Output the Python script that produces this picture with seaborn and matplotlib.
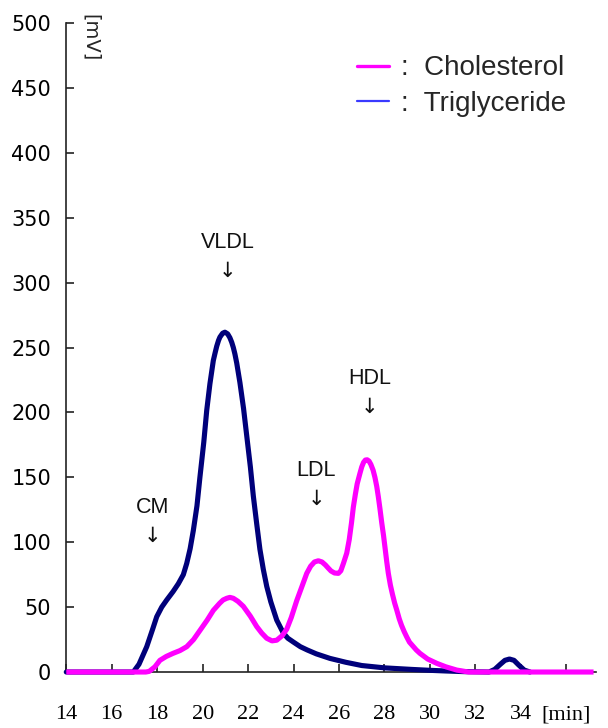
import pandas as pd
import matplotlib
matplotlib.use("Agg")
import matplotlib.pyplot as plt
from matplotlib.lines import Line2D
import seaborn as sns

# Values (time in min, signal in mV)
tg_time = [14, 16.5, 16.95, 17.2, 17.54, 17.8, 17.98, 18.2, 18.42, 18.7, 18.93, 19.15,
           19.3, 19.45, 19.59, 19.75, 19.88, 20.05, 20.18, 20.32, 20.47, 20.55, 20.62,
           20.7, 20.76, 20.88, 20.98, 21.1, 21.2, 21.28, 21.35, 21.42, 21.5, 21.64, 21.8,
           21.94, 22.1, 22.23, 22.38, 22.52, 22.67, 22.82, 23.0, 23.26, 23.55, 23.75,
           24.0, 24.3, 24.6, 25.0, 25.6, 26.3, 27.0, 28.0, 29.2, 30.0, 30.7, 31.5, 32.6,
           32.85, 33.1, 33.3, 33.5, 33.7, 33.9, 34.15, 34.4]
tg_mv = [0, 0, 0, 6, 19.5, 33, 42.6, 50, 55.5, 62, 68, 75,
         83.7, 95, 109, 128, 150, 177, 201.6, 222, 240, 246, 251,
         255.5, 258, 261, 261.8, 260.5, 257.5, 254, 250, 245, 238, 223, 203,
         182, 158, 135.6, 114, 94.5, 79, 66, 54, 40, 30, 26,
         23, 19.5, 17, 14, 10.5, 7.5, 5, 3.2, 2, 1.3, 0.8, 0.3, 0,
         2, 6, 9, 10, 9, 5.5, 1.5, 0]

ch_time = [14, 17.5, 17.65, 17.9, 18.12, 18.4, 18.7, 19.0, 19.3, 19.6, 19.88, 20.2,
           20.47, 20.75, 20.9, 21.06, 21.2, 21.35, 21.55, 21.79, 22.1, 22.38, 22.6,
           22.82, 23.05, 23.26, 23.5, 23.7, 23.9, 24.14, 24.35, 24.58, 24.75, 24.92,
           25.09, 25.25, 25.4, 25.53, 25.65, 25.8, 25.97, 26.08, 26.2, 26.34, 26.45,
           26.55, 26.63, 26.72, 26.8, 26.92, 27.0, 27.08, 27.16, 27.24, 27.32, 27.4,
           27.5, 27.58, 27.66, 27.73, 27.8, 27.88, 27.96, 28.03, 28.1, 28.17, 28.26,
           28.35, 28.45, 28.54, 28.65, 28.75, 28.87, 28.98, 29.1, 29.25, 29.4, 29.56,
           29.9, 30.3, 30.7, 31.18, 31.7, 37.2]
ch_mv = [0, 0, 0.5, 4, 9, 12, 14.4, 16.5, 19.5, 25, 32, 40,
         47.5, 53, 55.5, 56.8, 57.5, 56.8, 54.5, 50.6, 43, 35, 30,
         26, 24, 24.5, 28, 33, 42, 55, 65, 76, 81.5, 84.8,
         85.7, 84.8, 82.5, 80, 77.8, 76.3, 76, 78, 84, 91.6, 102,
         115, 127, 137, 145, 153, 158, 161.5, 163.3, 163.5, 162.5, 160,
         155.5, 150, 143, 135, 126, 115, 105, 95, 85, 76, 67,
         60, 53, 47.8, 41, 36, 31, 27, 23, 20, 17, 14.4,
         10, 6.7, 4, 1.5, 0, 0]

x_ticks = [14, 16, 18, 20, 22, 24, 26, 28, 30, 32, 34, 36]
x_labels = ["14", "16", "18", "20", "22", "24", "26", "28", "30", "32", "34", "[min]"]
y_ticks = [0, 50, 100, 150, 200, 250, 300, 350, 400, 450, 500]

peak_names = ["CM", "VLDL", "LDL", "HDL"]
peak_time = [17.8, 21.1, 25.0, 27.35]
peak_label_mv = [127, 331, 155, 226]

tg = pd.DataFrame({"time": tg_time, "mV": tg_mv})
ch = pd.DataFrame({"time": ch_time, "mV": ch_mv})

sns.set_style("ticks")
plt.rcParams["font.family"] = ["Liberation Sans", "DejaVu Sans"]

fig = plt.figure(figsize=(6.08, 7.28), dpi=100)
ax = fig.add_axes([0.109, 0.0769, 0.871, 0.8915])

sns.lineplot(data=tg, x="time", y="mV", ax=ax, color="#00007a", lw=3.7,
             sort=False, estimator=None, clip_on=False, zorder=3,
             solid_joinstyle="round", solid_capstyle="round")
sns.lineplot(data=ch, x="time", y="mV", ax=ax, color="#ff00ff", lw=3.7,
             sort=False, estimator=None, clip_on=False, zorder=4,
             solid_joinstyle="round", solid_capstyle="butt")

ax.set_xlim(14, 37.3)
ax.set_ylim(0, 500)
ax.set_xticks(x_ticks)
ax.set_xticklabels(x_labels, family="Liberation Serif", fontsize=16)
ax.set_yticks(y_ticks)
ax.set_yticklabels([str(v) for v in y_ticks], family="DejaVu Sans", fontsize=15)
ax.tick_params(axis="x", direction="in", length=6, width=1.2, pad=24,
               color="#222222", labelcolor="black", bottom=True)
ax.tick_params(axis="y", direction="in", length=6, width=1.2, pad=11,
               color="#222222", labelcolor="black", left=True)
ax.set_xlabel("")
ax.set_ylabel("")
sns.despine(ax=ax)
ax.spines["left"].set_linewidth(1.2)
ax.spines["bottom"].set_linewidth(1.2)
ax.spines["left"].set_color("#222222")
ax.spines["bottom"].set_color("#222222")

ax.text(15.05, 489, "[mV]", rotation=-90, ha="center", va="center",
        fontsize=14, family="DejaVu Sans")

for name, t, m in zip(peak_names, peak_time, peak_label_mv):
    ax.text(t, m, name, ha="center", va="center", fontsize=15.5, color="#111111")
    ax.text(t, m - 22, "\u2193", ha="center", va="center", fontsize=15,
            family="DejaVu Sans", color="#111111")

handles = [Line2D([], [], color="#ff00ff", lw=2.4),
           Line2D([], [], color="#3a3aff", lw=1.6)]
ax.legend(handles, [":  Cholesterol", ":  Triglyceride"], loc="upper left",
          bbox_to_anchor=(0.549, 0.950), frameon=False, fontsize=20,
          handlelength=1.15, handletextpad=0.45, labelspacing=0.35,
          borderpad=0, borderaxespad=0)

fig.savefig("out.png", dpi=100)
